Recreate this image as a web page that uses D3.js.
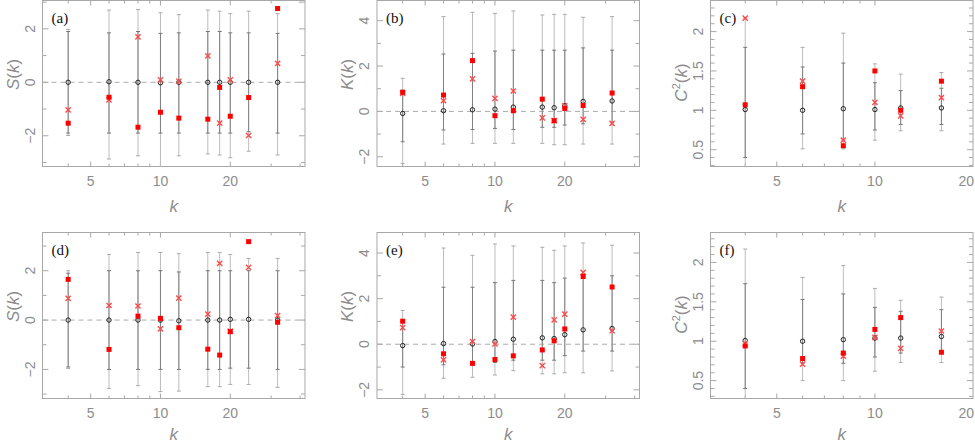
<!DOCTYPE html>
<html>
<head>
<meta charset="utf-8">
<script src="https://cdn.jsdelivr.net/npm/d3@7"></script>
<style>
  body { margin: 0; background: #fff; }
  svg { display: block; }
</style>
</head>
<body>
<svg id="chart" width="975" height="445"></svg>
<script>
// wavenumbers of the bins
var kAll = [4, 6, 8, 10, 12, 16, 18, 20, 24, 32];
var kC = [4, 6, 8, 10, 12, 16];

// (a) S(k)
var aMean = [0, 0.02, 0, -0.02, 0, 0, 0, 0, 0, 0];
var aLo = [-1.99, -2.87, -2.75, -3.2, -2.75, -2.68, -2.72, -2.82, -2.58, -2.72];
var aHi = [1.98, 2.70, 2.72, 2.6, 2.53, 2.70, 2.66, 2.57, 2.66, 2.57];
var aLo1 = [-1.9, -1.9, -1.9, -1.9, -1.9, -1.9, -1.9, -1.9, -1.85, -1.9];
var aHi1 = [1.9, 1.85, 1.9, 1.83, 1.85, 1.9, 1.9, 1.85, 1.85, 1.83];
var aSq = [-1.53, -0.56, -1.68, -1.12, -1.34, -1.38, -0.19, -1.27, -0.57, 2.76];
var aX = [-1.03, -0.66, 1.70, 0.09, 0.04, 0.99, -1.53, 0.09, -1.99, 0.71];

// (b) K(k)
var bMean = [-0.09, 0.03, 0.07, 0.1, 0.19, 0.19, 0.16, 0.25, 0.44, 0.46];
var bLo = [-2.3, -1.44, -1.41, -1.41, -1.41, -1.41, -1.47, -1.47, -1.44, -1.44];
var bHi = [1.46, 4.18, 4.37, 4.32, 4.43, 4.25, 4.28, 4.28, 4.15, 4.18];
var bLo1 = [-1.34, -0.82, -0.8, -0.75, -0.8, -0.7, -0.7, -0.6, -0.55, -0.5];
var bHi1 = [0.94, 2.53, 2.56, 2.66, 2.7, 2.7, 2.7, 2.7, 2.8, 2.7];
var bSq = [0.84, 0.72, 2.24, -0.19, 0.03, 0.54, -0.41, 0.13, 0.26, 0.81];
var bX = [0.79, 0.47, 1.43, 0.57, 0.9, -0.29, -0.41, 0.25, -0.35, -0.53];

// (c) C^2(k)
var cMean = [1.01, 1.0, 1.02, 1.01, 1.03, 1.03];
var cLo = [0.2, 0.51, 0.51, 0.62, 0.74, 0.74];
var cHi = [2.17, 1.80, 1.98, 1.59, 1.46, 1.48];
var cLo1 = [0.4, 0.7, 0.62, 0.75, 0.82, 0.82];
var cHi1 = [1.8, 1.55, 1.6, 1.35, 1.25, 1.28];
var cSq = [1.07, 1.30, 0.55, 1.50, 1.0, 1.37];
var cX = [2.17, 1.37, 0.62, 1.10, 0.93, 1.16];

// (d) S(k)
var dMean = [0, 0, 0, 0, -0.03, 0, 0, 0.03, 0.03, 0];
var dLo = [-1.96, -2.77, -2.66, -2.9, -2.88, -2.7, -2.7, -2.61, -2.61, -2.73];
var dHi = [2.0, 2.66, 2.74, 2.74, 2.69, 2.74, 2.74, 2.66, 2.5, 2.5];
var dLo1 = [-1.9, -2.0, -2.0, -2.0, -2.0, -2.0, -2.0, -1.95, -1.95, -2.0];
var dHi1 = [1.9, 2.0, 2.0, 2.0, 1.95, 2.0, 2.0, 2.0, 2.0, 2.0];
var dSq = [1.65, -1.19, 0.16, 0.07, -0.31, -1.18, -1.42, -0.47, 3.18, -0.09];
var dX = [0.88, 0.59, 0.57, -0.36, 0.89, 0.24, 2.3, -0.45, 2.14, 0.18];

// (e) K(k)
var eMean = [-0.06, 0.03, 0.01, 0.12, 0.22, 0.28, 0.25, 0.42, 0.63, 0.69];
var eLo = [-2.2, -1.49, -1.45, -1.35, -1.16, -1.3, -1.3, -1.25, -1.25, -1.17];
var eHi = [1.48, 4.22, 3.9, 4.4, 4.31, 4.25, 4.12, 4.31, 4.44, 4.34];
var eLo1 = [-1.0, -0.9, -0.9, -0.8, -0.7, -0.7, -0.7, -0.5, -0.3, -0.3];
var eHi1 = [1.0, 2.5, 2.5, 2.7, 2.8, 2.8, 2.7, 2.9, 3.0, 3.0];
var eSq = [1.01, -0.42, -0.84, -0.67, -0.51, -0.25, 0.15, 0.67, 2.97, 2.51];
var eX = [0.73, -0.69, 0.12, 0.01, 1.19, -0.94, 1.07, 1.32, 3.15, 0.59];

// (f) C^2(k)
var fMean = [1.01, 1.0, 1.02, 1.04, 1.04, 1.06];
var fLo = [0.2, 0.5, 0.5, 0.62, 0.73, 0.73];
var fHi = [2.17, 1.81, 1.96, 1.67, 1.52, 1.56];
var fLo1 = [0.4, 0.72, 0.72, 0.8, 0.85, 0.85];
var fHi1 = [1.73, 1.53, 1.6, 1.43, 1.38, 1.4];
var fSq = [0.94, 0.78, 0.85, 1.15, 1.30, 0.86];
var fX = [0.97, 0.71, 0.81, 1.05, 0.91, 1.13];

// tick labels
var xTicksMajor = [5, 10, 20];
var xTicksMinor = [4, 6, 7, 8, 9, 30, 40];
var ySkewMajor = [-2, 0, 2];
var yKurtMajor = [-2, 0, 2, 4];
var yCMajor = [0.5, 1, 1.5, 2];

var svg = d3.select("#chart");

var colW = [42.5, 377, 710.5];
var rowY = [0.5, 232.5];
var pw = 262.5, ph = 166;

function build(mean, lo, hi, lo1, hi1, sq, xx, ks) {
    return ks.map(function(k, i) {
        return {k: k, mean: mean[i], lo: lo[i], hi: hi[i], lo1: lo1[i], hi1: hi1[i], sq: sq[i], x: xx[i]};
    });
}

var panels = [
    {tag: "(a)", lab: "S", col: 0, row: 0, xd: [3.1, 42], yd: [-3.15, 3.06], major: ySkewMajor, minStep: 1, zero: true,
     data: build(aMean, aLo, aHi, aLo1, aHi1, aSq, aX, kAll)},
    {tag: "(b)", lab: "K", col: 1, row: 0, xd: [3.1, 42], yd: [-2.43, 4.89], major: yKurtMajor, minStep: 1, zero: true,
     data: build(bMean, bLo, bHi, bLo1, bHi1, bSq, bX, kAll)},
    {tag: "(c)", lab: "C", col: 2, row: 0, xd: [3.13, 20], yd: [0.286, 2.395], major: yCMajor, minStep: 0.1, zero: false,
     data: build(cMean, cLo, cHi, cLo1, cHi1, cSq, cX, kC)},
    {tag: "(d)", lab: "S", col: 0, row: 1, xd: [3.1, 42], yd: [-3.18, 3.55], major: ySkewMajor, minStep: 1, zero: true,
     data: build(dMean, dLo, dHi, dLo1, dHi1, dSq, dX, kAll)},
    {tag: "(e)", lab: "K", col: 1, row: 1, xd: [3.1, 42], yd: [-2.38, 4.90], major: yKurtMajor, minStep: 1, zero: true,
     data: build(eMean, eLo, eHi, eLo1, eHi1, eSq, eX, kAll)},
    {tag: "(f)", lab: "C", col: 2, row: 1, xd: [3.13, 20], yd: [0.273, 2.38], major: yCMajor, minStep: 0.1, zero: false,
     data: build(fMean, fLo, fHi, fLo1, fHi1, fSq, fX, kC)}
];

var frameCol = "#a8a8a8";
var textCol = "#8c8c8c";

panels.forEach(function(p, pi) {
    var x0 = colW[p.col], y0 = rowY[p.row];
    var g = svg.append("g").attr("transform", "translate(" + x0 + "," + y0 + ")");

    var x = d3.scaleLog().domain(p.xd).range([0, pw]);
    var y = d3.scaleLinear().domain(p.yd).range([ph, 0]);

    var clipId = "clip" + pi;
    g.append("clipPath").attr("id", clipId)
        .append("rect").attr("width", pw).attr("height", ph);

    // frame
    g.append("rect")
        .attr("width", pw).attr("height", ph)
        .attr("fill", "none").attr("stroke", frameCol).attr("stroke-width", 1);

    // x ticks (inward, top and bottom)
    var xt = xTicksMajor.map(function(v) { return {v: v, len: 5}; })
        .concat(xTicksMinor.map(function(v) { return {v: v, len: 3}; }))
        .filter(function(t) { return t.v > p.xd[0] && t.v < p.xd[1]; });
    xt.forEach(function(t) {
        var xp = x(t.v);
        g.append("line").attr("x1", xp).attr("x2", xp).attr("y1", ph).attr("y2", ph - t.len)
            .attr("stroke", frameCol);
        g.append("line").attr("x1", xp).attr("x2", xp).attr("y1", 0).attr("y2", t.len)
            .attr("stroke", frameCol);
    });
    xTicksMajor.filter(function(v) { return v > p.xd[0] && v <= p.xd[1] * 1.01; }).forEach(function(v) {
        // the last label of the narrow panels sits on the page edge: keep it inside
        var atEdge = x0 + x(v) + 8 > 975;
        g.append("text")
            .attr("x", atEdge ? 975 - x0 - 1 : x(v)).attr("y", ph + 19)
            .attr("text-anchor", atEdge ? "end" : "middle")
            .attr("font-family", "Liberation Sans, Arial, sans-serif")
            .attr("font-size", 14).attr("fill", textCol)
            .text(v);
    });

    // y ticks
    var minors = d3.range(Math.ceil(p.yd[0] / p.minStep), Math.floor(p.yd[1] / p.minStep) + 1)
        .map(function(i) { return +(i * p.minStep).toFixed(3); });
    minors.forEach(function(v) {
        var isMaj = p.major.some(function(m) { return Math.abs(m - v) < 1e-6; });
        var len = isMaj ? 6 : 4;
        var yp = y(v);
        g.append("line").attr("x1", 0).attr("x2", len).attr("y1", yp).attr("y2", yp).attr("stroke", frameCol);
        g.append("line").attr("x1", pw).attr("x2", pw - len).attr("y1", yp).attr("y2", yp).attr("stroke", frameCol);
    });
    p.major.forEach(function(v) {
        var yp = y(v);
        g.append("text")
            .attr("transform", "translate(-8," + yp + ") rotate(-90)")
            .attr("text-anchor", "middle")
            .attr("font-family", "Liberation Sans, Arial, sans-serif")
            .attr("font-size", 14).attr("fill", textCol)
            .text(v < 0 ? "\u2212" + Math.abs(v) : v);
    });

    // axis titles
    g.append("text")
        .attr("x", pw / 2).attr("y", ph + (p.row ? 41 : 45))
        .attr("text-anchor", "middle")
        .attr("font-family", "Liberation Sans, Arial, sans-serif")
        .attr("font-style", "italic")
        .attr("font-size", 17).attr("fill", textCol)
        .text("k");

    var yl = g.append("text")
        .attr("transform", "translate(-24," + (p.lab === "C" ? 82 : 74) + ") rotate(-90)")
        .attr("text-anchor", "middle")
        .attr("font-family", "Liberation Sans, Arial, sans-serif")
        .attr("font-size", 17).attr("fill", textCol);
    yl.append("tspan").attr("font-style", "italic").text(p.lab);
    if (p.lab === "C") {
        yl.append("tspan").attr("font-size", 11).attr("dy", -7).text("2");
        yl.append("tspan").attr("dy", 7).text("(");
    } else {
        yl.append("tspan").text("(");
    }
    yl.append("tspan").attr("font-style", "italic").text("k");
    yl.append("tspan").text(")");

    // panel tag
    g.append("text")
        .attr("x", 9).attr("y", 22)
        .attr("font-family", "Liberation Serif, Times New Roman, serif")
        .attr("font-size", 15).attr("fill", "#111")
        .text(p.tag);

    var plot = g.append("g").attr("clip-path", "url(#" + clipId + ")");

    // zero reference line
    if (p.zero) {
        plot.append("line")
            .attr("x1", 0).attr("x2", pw).attr("y1", y(0)).attr("y2", y(0))
            .attr("stroke", "#aaaaaa").attr("stroke-width", 1)
            .attr("stroke-dasharray", "5,4");
    }

    var pts = plot.selectAll(".pt").data(p.data).enter().append("g").attr("class", "pt");

    // outer range
    pts.append("line")
        .attr("x1", d => x(d.k)).attr("x2", d => x(d.k))
        .attr("y1", d => y(d.lo)).attr("y2", d => y(d.hi))
        .attr("stroke", "#bdbdbd").attr("stroke-width", 1);
    // inner range
    pts.append("line")
        .attr("x1", d => x(d.k)).attr("x2", d => x(d.k))
        .attr("y1", d => y(d.lo1)).attr("y2", d => y(d.hi1))
        .attr("stroke", "#808080").attr("stroke-width", 1);
    // small caps
    ["lo", "hi", "lo1", "hi1"].forEach(function(key) {
        pts.append("line")
            .attr("x1", d => x(d.k) - 2).attr("x2", d => x(d.k) + 2)
            .attr("y1", d => y(d[key])).attr("y2", d => y(d[key]))
            .attr("stroke", key.length === 2 ? "#aaaaaa" : "#777777").attr("stroke-width", 1);
    });

    // mean
    pts.append("circle")
        .attr("cx", d => x(d.k)).attr("cy", d => y(d.mean))
        .attr("r", 2.2)
        .attr("fill", "none").attr("stroke", "#222").attr("stroke-width", 1);

    // crosses
    var cs = 2.6;
    pts.append("path")
        .attr("d", function(d) {
            var cx = x(d.k), cy = y(d.x);
            return "M" + (cx - cs) + "," + (cy - cs) + "L" + (cx + cs) + "," + (cy + cs) +
                "M" + (cx - cs) + "," + (cy + cs) + "L" + (cx + cs) + "," + (cy - cs);
        })
        .attr("stroke", "#ff4a4a").attr("stroke-width", 1.4).attr("fill", "none");

    // squares
    pts.append("rect")
        .attr("x", d => x(d.k) - 2.5).attr("y", d => y(d.sq) - 2.5)
        .attr("width", 5).attr("height", 5)
        .attr("fill", "#ff0000");
});
</script>
</body>
</html>
